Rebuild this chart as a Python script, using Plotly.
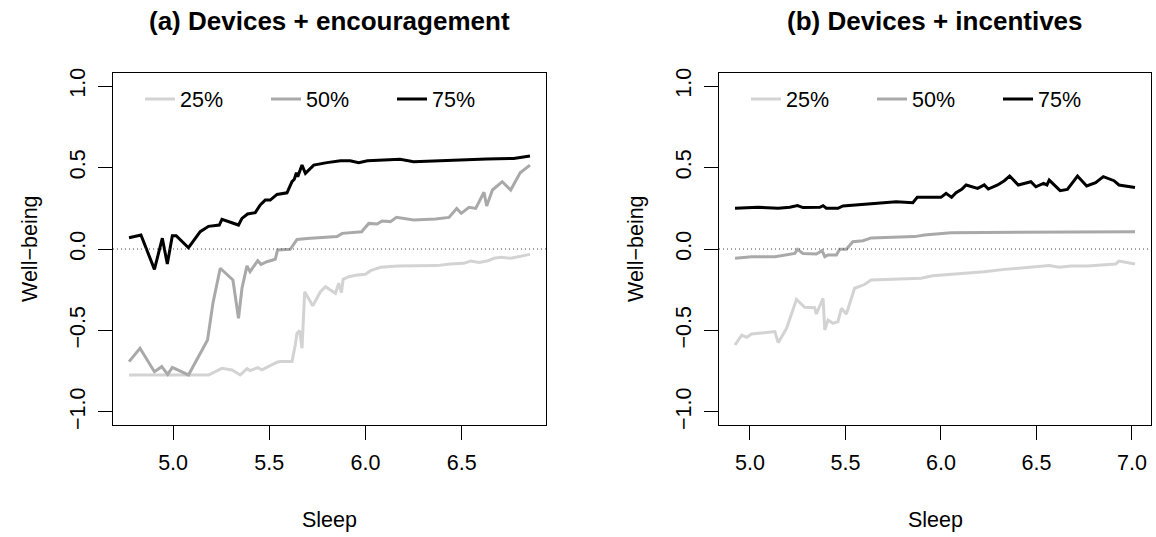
import plotly.graph_objects as go

W, H = 1156, 537

# ---------------- data: panel (a) Devices + encouragement ----------------
a_q75_x = [4.771, 4.833, 4.903, 4.944, 4.970, 4.996, 5.016, 5.080, 5.141, 5.184, 5.240, 5.254,
           5.340, 5.358, 5.387, 5.427, 5.453, 5.479, 5.505, 5.540, 5.592, 5.618, 5.630, 5.641,
           5.648, 5.670, 5.688, 5.731, 5.800, 5.870, 5.920, 5.965, 6.010, 6.080, 6.180, 6.250,
           6.370, 6.530, 6.630, 6.770, 6.855]
a_q75_y = [0.069, 0.086, -0.125, 0.066, -0.092, 0.082, 0.082, 0.008, 0.106, 0.139, 0.147, 0.182,
           0.147, 0.188, 0.215, 0.223, 0.270, 0.300, 0.300, 0.335, 0.345, 0.413, 0.428, 0.468,
           0.444, 0.515, 0.464, 0.515, 0.530, 0.542, 0.542, 0.530, 0.542, 0.546, 0.550, 0.536,
           0.542, 0.550, 0.552, 0.556, 0.570]

a_q50_x = [4.771, 4.828, 4.903, 4.941, 4.972, 4.996, 5.080, 5.179, 5.207, 5.245, 5.311, 5.340,
           5.358, 5.384, 5.400, 5.440, 5.457, 5.488, 5.531, 5.543, 5.609, 5.644, 5.696, 5.852,
           5.879, 5.980, 6.017, 6.060, 6.087, 6.130, 6.161, 6.220, 6.250, 6.364, 6.434, 6.474,
           6.498, 6.538, 6.573, 6.616, 6.630, 6.660, 6.711, 6.755, 6.804, 6.855]
a_q50_y = [-0.691, -0.609, -0.753, -0.722, -0.769, -0.726, -0.773, -0.558, -0.333, -0.118, -0.190, -0.425,
           -0.241, -0.104, -0.139, -0.072, -0.094, -0.078, -0.063, -0.006, -0.002, 0.059, 0.065, 0.076,
           0.096, 0.106, 0.157, 0.153, 0.172, 0.168, 0.194, 0.186, 0.178, 0.184, 0.194, 0.249,
           0.219, 0.256, 0.249, 0.348, 0.264, 0.362, 0.413, 0.362, 0.468, 0.515]

a_q25_x = [4.771, 5.184, 5.254, 5.306, 5.349, 5.384, 5.400, 5.440, 5.462, 5.497, 5.540, 5.557,
           5.618, 5.635, 5.644, 5.658, 5.670, 5.684, 5.726, 5.766, 5.792, 5.844, 5.861, 5.875,
           5.884, 5.913, 5.957, 6.000, 6.026, 6.078, 6.165, 6.370, 6.440, 6.510, 6.547, 6.590,
           6.637, 6.668, 6.703, 6.755, 6.855]
a_q25_y = [-0.773, -0.773, -0.732, -0.742, -0.773, -0.734, -0.746, -0.728, -0.742, -0.722, -0.695, -0.691,
           -0.691, -0.589, -0.517, -0.501, -0.609, -0.262, -0.348, -0.262, -0.231, -0.272, -0.210, -0.268,
           -0.186, -0.170, -0.160, -0.155, -0.133, -0.112, -0.104, -0.102, -0.092, -0.088, -0.074, -0.082,
           -0.072, -0.057, -0.051, -0.057, -0.033]

# ---------------- data: panel (b) Devices + incentives ----------------
b_q75_x = [4.922, 5.043, 5.148, 5.209, 5.249, 5.278, 5.366, 5.383, 5.400, 5.461, 5.487, 5.548,
           5.600, 5.644, 5.705, 5.766, 5.853, 5.876, 6.000, 6.027, 6.056, 6.079, 6.109, 6.132,
           6.192, 6.227, 6.248, 6.297, 6.332, 6.360, 6.405, 6.471, 6.497, 6.537, 6.555, 6.567,
           6.624, 6.662, 6.715, 6.763, 6.810, 6.850, 6.906, 6.932, 7.016]
b_q75_y = [0.250, 0.256, 0.250, 0.256, 0.266, 0.254, 0.256, 0.266, 0.250, 0.250, 0.264, 0.270,
           0.274, 0.280, 0.284, 0.290, 0.284, 0.317, 0.317, 0.342, 0.317, 0.345, 0.366, 0.393,
           0.372, 0.393, 0.368, 0.393, 0.419, 0.448, 0.393, 0.413, 0.382, 0.403, 0.393, 0.423,
           0.358, 0.366, 0.448, 0.387, 0.407, 0.444, 0.419, 0.393, 0.378]

b_q50_x = [4.922, 5.009, 5.131, 5.183, 5.235, 5.249, 5.278, 5.348, 5.378, 5.392, 5.409, 5.453,
           5.470, 5.505, 5.539, 5.592, 5.635, 5.862, 5.914, 6.053, 6.332, 6.471, 6.680, 7.016]
b_q50_y = [-0.057, -0.047, -0.047, -0.037, -0.027, -0.002, -0.027, -0.031, -0.010, -0.047, -0.037, -0.037,
           -0.002, -0.002, 0.045, 0.051, 0.068, 0.076, 0.086, 0.100, 0.102, 0.100, 0.106, 0.106]

b_q25_x = [4.922, 4.957, 4.983, 5.009, 5.131, 5.148, 5.192, 5.244, 5.287, 5.339, 5.348, 5.383,
           5.392, 5.409, 5.435, 5.461, 5.479, 5.505, 5.548, 5.600, 5.635, 5.896, 5.957, 6.123,
           6.227, 6.332, 6.497, 6.567, 6.619, 6.680, 6.767, 6.915, 6.932, 7.016]
b_q25_y = [-0.589, -0.528, -0.542, -0.521, -0.507, -0.575, -0.487, -0.309, -0.358, -0.360, -0.399, -0.302,
           -0.497, -0.436, -0.456, -0.446, -0.364, -0.399, -0.241, -0.218, -0.190, -0.180, -0.164, -0.149,
           -0.139, -0.125, -0.112, -0.102, -0.112, -0.104, -0.104, -0.092, -0.074, -0.092]

series_names = ["25%", "50%", "75%"]
series_colors = ["#d3d3d3", "#a9a9a9", "#000000"]
panel_titles = ["(a) Devices + encouragement", "(b) Devices + incentives"]
x_ticks_a = [5.0, 5.5, 6.0, 6.5]
x_ticks_b = [5.0, 5.5, 6.0, 6.5, 7.0]
y_ticks = [-1.0, -0.5, 0.0, 0.5, 1.0]
y_lim = [-1.0, 1.0]
x_label = "Sleep"
y_label = "Well\u2212being"

FONT = "Liberation Sans, Arial, Helvetica, sans-serif"
FS = 21.5


def rrange(lo, hi):
    d = (hi - lo) * 0.04
    return [lo - d, hi + d]


fig = go.Figure()

panels = [
    ([a_q25_x, a_q50_x, a_q75_x], [a_q25_y, a_q50_y, a_q75_y], "x", "y", "legend"),
    ([b_q25_x, b_q50_x, b_q75_x], [b_q25_y, b_q50_y, b_q75_y], "x2", "y2", "legend2"),
]
for xs, ys, xa, ya, lg in panels:
    for name, col, xv, yv in zip(series_names, series_colors, xs, ys):
        fig.add_trace(go.Scatter(x=xv, y=yv, mode="lines", name=name,
                                 line=dict(color=col, width=3),
                                 xaxis=xa, yaxis=ya, legend=lg))

# pixel geometry of plot boxes
boxes = [(113, 546), (719, 1151)]
top, bot = 73, 425
ydom = [1 - bot / H, 1 - top / H]

axis_common = dict(showgrid=False, zeroline=False, showline=True, mirror=True,
                   linecolor="black", linewidth=1, ticks="outside", ticklen=14,
                   tickcolor="black", tickwidth=1, tickformat=".1f", automargin=False,
                   tickfont=dict(family=FONT, size=FS, color="black"))

xa_range = rrange(min(a_q25_x + a_q50_x + a_q75_x), max(a_q25_x + a_q50_x + a_q75_x))
xb_range = rrange(min(b_q25_x + b_q50_x + b_q75_x), max(b_q25_x + b_q50_x + b_q75_x))
y_range = rrange(*y_lim)

legend_common = dict(orientation="h", xanchor="left", y=1 - 99 / H, yanchor="middle",
                     bgcolor="rgba(0,0,0,0)", font=dict(family=FONT, size=FS, color="black"),
                     entrywidth=81, itemwidth=30, traceorder="normal")

fig.update_layout(
    width=W, height=H,
    margin=dict(l=0, r=0, t=0, b=0),
    paper_bgcolor="white", plot_bgcolor="white",
    font=dict(family=FONT, size=FS, color="black"),
    xaxis=dict(domain=[boxes[0][0] / W, boxes[0][1] / W], range=xa_range,
               tickvals=x_ticks_a, anchor="y", ticklabelstandoff=4, **axis_common),
    yaxis=dict(domain=ydom, range=y_range, tickvals=y_ticks, anchor="x",
               tickangle=-90, ticklabelstandoff=4, **axis_common),
    xaxis2=dict(domain=[boxes[1][0] / W, boxes[1][1] / W], range=xb_range,
                tickvals=x_ticks_b, anchor="y2", ticklabelstandoff=4, **axis_common),
    yaxis2=dict(domain=ydom, range=y_range, tickvals=y_ticks, anchor="x2",
                tickangle=-90, ticklabelstandoff=4, **axis_common),
    legend=dict(x=140 / W, **legend_common),
    legend2=dict(x=746 / W, **legend_common),
    showlegend=True,
)

# dotted reference line at zero
for xr, yr in [("x domain", "y"), ("x2 domain", "y2")]:
    fig.add_shape(type="line", xref=xr, yref=yr, x0=0, x1=1, y0=0, y1=0,
                  line=dict(color="#444444", width=1, dash="1px,3px"))

# titles & axis labels
for (x0, x1), title in zip(boxes, panel_titles):
    cx = (x0 + x1) / 2 / W
    fig.add_annotation(text="<b>%s</b>" % title, x=cx, y=1 - 21 / H, xref="paper", yref="paper",
                       showarrow=False, xanchor="center", yanchor="middle",
                       font=dict(family=FONT, size=26, color="black"))
    fig.add_annotation(text=x_label, x=cx, y=1 - 520 / H, xref="paper", yref="paper",
                       showarrow=False, xanchor="center", yanchor="middle",
                       font=dict(family=FONT, size=FS, color="black"))
    fig.add_annotation(text=y_label, x=(x0 - 83) / W, y=1 - 249 / H, xref="paper", yref="paper",
                       showarrow=False, xanchor="center", yanchor="middle", textangle=-90,
                       font=dict(family=FONT, size=FS, color="black"))

fig.write_html("out.html", config={"displayModeBar": False},
               post_script="document.body.style.margin='0';"
               "document.body.style.overflow='hidden';")
